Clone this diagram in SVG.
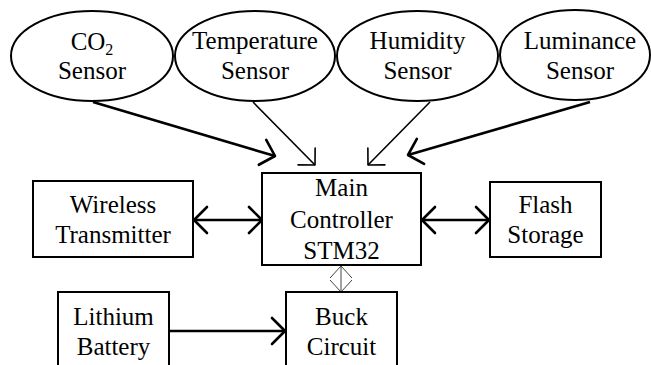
<svg xmlns="http://www.w3.org/2000/svg" width="651" height="365" viewBox="0 0 651 365">
<style>
.shape{fill:#fff;stroke:#000;stroke-width:2}
.t{font-family:'Liberation Serif','DejaVu Serif',serif;font-size:25px;fill:#000;text-anchor:middle}
.thick{stroke:#000;stroke-width:2.6;fill:none}
.thin{stroke:#000;stroke-width:1.6;fill:none}
.hair{stroke:#444;stroke-width:1;fill:none}
</style>
<defs>
<marker id="aThick" markerUnits="userSpaceOnUse" viewBox="-16 -16 20 32" refX="0" refY="0" markerWidth="20" markerHeight="32" orient="auto-start-reverse">
<path d="M-13,-13 L0,0 L-13,13" fill="none" stroke="#000" stroke-width="2.6" stroke-linecap="round" stroke-linejoin="round"/>
</marker>
<marker id="aThin" markerUnits="userSpaceOnUse" viewBox="-16 -16 20 32" refX="0" refY="0" markerWidth="20" markerHeight="32" orient="auto-start-reverse">
<path d="M-12,-12 L0,0 L-12,12" fill="none" stroke="#000" stroke-width="1.6" stroke-linecap="round" stroke-linejoin="round"/>
</marker>
<marker id="aHair" markerUnits="userSpaceOnUse" viewBox="-14 -14 16 28" refX="0" refY="0" markerWidth="16" markerHeight="28" orient="auto-start-reverse">
<path d="M-12,-11 L0,0 L-12,11" fill="none" stroke="#444" stroke-width="1"/>
</marker>
</defs>
<g id="connectors">
<line class="thick" x1="93" y1="102" x2="275" y2="156" marker-end="url(#aThick)"/>
<line class="thin" x1="253" y1="102" x2="315" y2="165" marker-end="url(#aThin)"/>
<line class="thin" x1="430" y1="102" x2="368" y2="165" marker-end="url(#aThin)"/>
<line class="thick" x1="590" y1="102" x2="408" y2="155" marker-end="url(#aThick)"/>
<line class="thick" x1="194" y1="220" x2="262" y2="220" marker-start="url(#aThick)" marker-end="url(#aThick)"/>
<line class="thick" x1="422" y1="220" x2="489" y2="220" marker-start="url(#aThick)" marker-end="url(#aThick)"/>
<line class="thick" x1="170" y1="331" x2="285" y2="331" marker-end="url(#aThick)"/>
<line class="hair" x1="341" y1="266" x2="341" y2="292" marker-start="url(#aHair)" marker-end="url(#aHair)"/>
</g>
<g id="co2">
<ellipse class="shape" cx="92" cy="56" rx="81" ry="45"/>
<text class="t" x="92" y="50" font-family="Liberation Serif, serif">CO<tspan font-size="16" dy="5">2</tspan></text>
<text class="t" x="92" y="79" font-family="Liberation Serif, serif">Sensor</text>
</g>
<g id="temperature">
<ellipse class="shape" cx="255" cy="56" rx="80" ry="45"/>
<text class="t" x="255" y="49">Temperature</text>
<text class="t" x="255" y="79">Sensor</text>
</g>
<g id="humidity">
<ellipse class="shape" cx="417.5" cy="56" rx="80.5" ry="45"/>
<text class="t" x="417.5" y="49">Humidity</text>
<text class="t" x="417.5" y="79">Sensor</text>
</g>
<g id="luminance">
<ellipse class="shape" cx="575" cy="55" rx="75" ry="45"/>
<text class="t" x="580" y="49">Luminance</text>
<text class="t" x="580" y="79">Sensor</text>
</g>
<g id="main">
<rect class="shape" x="262" y="173" width="159" height="92"/>
<text class="t" x="341.5" y="196">Main</text>
<text class="t" x="341.5" y="228">Controller</text>
<text class="t" x="341.5" y="259">STM32</text>
</g>
<g id="wireless">
<rect class="shape" x="33" y="181" width="160" height="76"/>
<text class="t" x="113" y="213">Wireless</text>
<text class="t" x="113" y="243">Transmitter</text>
</g>
<g id="flash">
<rect class="shape" x="490" y="182" width="111" height="75"/>
<text class="t" x="545.5" y="213">Flash</text>
<text class="t" x="545.5" y="243">Storage</text>
</g>
<g id="lithium">
<rect class="shape" x="58" y="292" width="111" height="80"/>
<text class="t" x="113.5" y="325">Lithium</text>
<text class="t" x="113.5" y="355">Battery</text>
</g>
<g id="buck">
<rect class="shape" x="286" y="292" width="111" height="80"/>
<text class="t" x="341.5" y="325">Buck</text>
<text class="t" x="341.5" y="355">Circuit</text>
</g>
</svg>
